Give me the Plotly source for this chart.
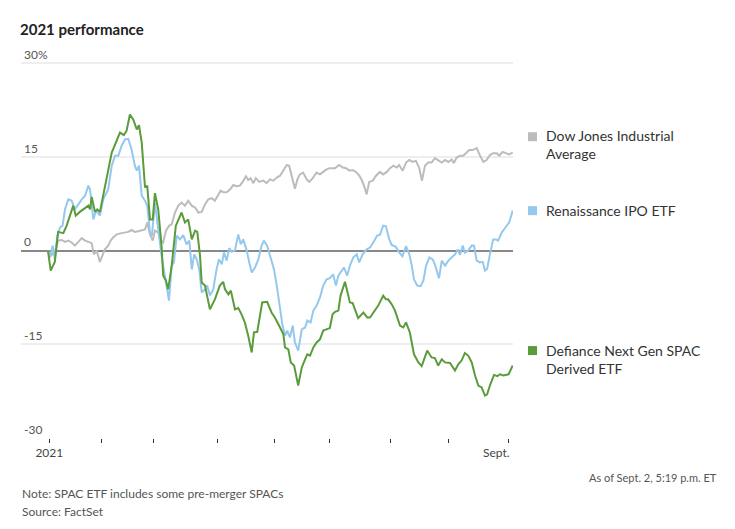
import plotly.graph_objects as go

# Trading-day index: 0 = Dec 31 2020, 1 = Jan 4 2021 ... 169 = Sept 2 2021
dow_days = [0, 0.7, 2.5, 3.7, 5.0, 6.2, 7.4, 8.6, 9.8, 11.0, 12.3, 13.5, 15.0, 15.9, 16.7, 17.7, 18.9, 19.9,
            20.7, 21.9, 22.8, 23.7, 25.0, 26.8, 28.0, 29.2, 30.4, 31.6, 32.8, 34.1, 35.3, 36.1, 37.1, 38.1,
            38.9, 40.1, 41.0, 41.9, 42.9, 44.1, 45.0, 46.2, 47.4, 48.6, 49.8, 51.0, 52.3, 53.5, 54.7, 55.9,
            57.1, 58.3, 59.5, 60.7, 61.9, 62.8, 64.0, 65.2, 66.4, 67.4, 68.6, 69.8, 70.8, 72.0, 72.8, 73.7,
            74.7, 75.6, 76.8, 78.3, 79.5, 80.7, 81.9, 83.2, 84.4, 85.6, 86.8, 87.7, 88.6, 89.8, 90.7, 91.6,
            92.8, 94.1, 95.0, 96.3, 97.7, 98.9, 100.1, 101.3, 102.5, 104.4, 105.9, 107.2, 108.4, 109.6, 110.8,
            112.0, 113.2, 114.1, 114.9, 115.9, 116.8, 118.1, 119.3, 120.7, 121.9, 123.2, 124.4, 125.6, 126.8,
            127.7, 129.0, 130.2, 131.4, 132.6, 133.8, 135.0, 136.0, 137.1, 138.3, 139.5, 140.7, 141.9, 143.2,
            144.4, 145.6, 146.8, 147.6, 148.6, 149.8, 151.0, 152.0, 153.2, 154.4, 155.9, 157.1, 158.3, 159.5,
            160.7, 161.9, 163.2, 164.1, 165.3, 166.5, 167.7, 169.0]
dow_values = [0, -1.0, -0.2, 1.6, 1.7, 1.4, 1.6, 1.3, 0.8, 1.3, 2.0, 1.6, 1.3, 1.2, -0.6, 0, -1.8, -0.8,
              0.2, 0.8, 1.6, 2.1, 2.6, 2.8, 2.9, 3.0, 3.3, 3.0, 3.1, 3.2, 3.4, 4.5, 2.6, 1.6,
              3.2, 2.9, 1.6, 1.3, 3.2, 4.0, 4.2, 6.1, 7.2, 7.7, 7.2, 8.0, 7.2, 6.9, 6.1, 6.2,
              7.4, 8.2, 8.4, 8.0, 8.8, 9.6, 9.3, 9.4, 9.9, 10.5, 10.3, 10.4, 11.0, 11.9, 11.3, 11.6,
              10.8, 11.6, 11.0, 11.2, 10.8, 11.4, 11.2, 11.7, 12.0, 12.8, 13.7, 13.6, 12.2, 9.9, 11.4, 12.2,
              12.5, 11.4, 11.0, 11.6, 12.5, 12.2, 12.6, 13.0, 13.2, 13.2, 13.7, 13.3, 13.2, 12.8, 12.9,
              12.6, 12.0, 11.3, 10.4, 9.0, 11.0, 11.2, 12.0, 12.6, 12.2, 12.6, 13.2, 13.6, 13.3,
              13.7, 12.8, 14.1, 14.5, 14.2, 14.4, 13.2, 11.2, 13.6, 14.1, 14.1, 14.8, 14.4, 14.1,
              14.5, 14.2, 14.6, 14.0, 14.9, 15.2, 15.2, 15.6, 16.1, 16.1, 16.4, 15.2, 14.2, 14.5,
              15.3, 15.6, 15.6, 15.2, 15.8, 15.6, 15.4, 15.7]

ipo_days = [0, 1.0, 1.7, 2.5, 3.4, 4.4, 5.3, 6.2, 7.4, 8.6, 9.8, 11.0, 12.3, 13.5, 14.7, 15.3, 16.5, 17.5,
            18.9, 20.1, 21.9, 23.2, 24.4, 25.6, 26.8, 28.0, 29.2, 30.4, 31.6, 32.3, 33.1, 34.1, 35.3, 36.1,
            37.1, 37.8, 38.9, 40.1, 41.3, 42.5, 44.0, 45.0, 45.8, 46.8, 48.0, 49.2, 50.4, 51.4, 52.3, 53.2,
            54.1, 55.0, 55.9, 57.1, 57.9, 58.9, 60.1, 61.3, 62.2, 63.2, 64.0, 65.0, 65.9, 66.8, 68.0, 69.2,
            70.1, 71.0, 72.3, 73.2, 74.1, 75.3, 76.5, 77.7, 78.5, 79.7, 80.7, 82.2, 83.2, 84.4, 85.3, 86.2,
            87.0, 88.0, 89.0, 89.8, 91.0, 92.3, 93.5, 94.3, 95.5, 96.5, 97.7, 98.9, 100.1, 101.3, 102.5,
            103.7, 104.7, 105.6, 106.8, 107.6, 108.8, 109.8, 111.0, 112.3, 113.2, 114.4, 115.9, 117.1, 118.3,
            119.7, 120.7, 121.9, 122.9, 124.1, 125.0, 126.5, 127.7, 128.9, 130.2, 131.4, 132.3, 133.1, 134.3,
            135.5, 136.5, 137.5, 138.7, 139.9, 140.7, 141.3, 142.2, 143.2, 144.4, 145.6, 146.8, 148.0, 149.0,
            149.8, 150.8, 151.6, 152.8, 154.1, 154.9, 155.9, 157.1, 158.1, 158.9, 159.7, 160.7, 161.9, 162.9,
            163.7, 165.0, 166.5, 167.7, 169.0]
ipo_values = [0, -0.8, 0.8, -1.4, 2.4, 3.7, 4.0, 6.6, 8.2, 8.0, 6.6, 7.4, 8.2, 8.8, 10.4, 9.8, 5.0, 6.4,
              5.6, 8.2, 9.8, 13.6, 15.2, 15.2, 16.8, 17.8, 17.9, 16.2, 13.6, 12.8, 13.6, 8.8, 8.0, 7.2,
              2.9, 2.4, 7.7, 3.4, -0.8, -4.0, -8.0, -2.4, -1.9, 2.4, 1.8, 2.5, 1.0, 1.6, -3.0, -0.6,
              -1.4, -3.0, -6.7, -6.2, -5.6, -7.2, -6.2, -3.0, -1.4, -2.2, -0.3, -1.6, 0.4, -0.2, 0, 2.6,
              1.0, 1.8, 0, -1.9, -3.5, -2.7, -1.4, 0.8, 1.6, 0.8, -0.8, -3.0, -5.6, -9.4, -12.0, -13.6,
              -12.8, -13.9, -12.0, -14.7, -16.0, -12.6, -12.3, -11.2, -11.5, -9.6, -8.8, -7.5, -5.6, -4.6, -4.4,
              -3.8, -5.6, -4.0, -3.2, -2.7, -4.0, -2.4, -1.1, -0.6, -1.9, -0.6, 0.2, 0.5, 1.3,
              2.4, 2.5, 4.0, 3.9, 1.8, 0.9, 0.6, -0.3, -0.9, 0.7, -0.6, -2.4, -4.6, -5.6,
              -5.7, -4.8, -2.4, -1.1, -1.4, -2.2, -3.0, -4.4, -1.6, -2.4, -1.6, -1.1, -0.6, 0.2,
              -0.7, 0.8, -0.3, 0, 0.8, 0.8, -1.6, -1.9, -1.8, -3.2, -2.9, -0.6, 1.8, 1.8,
              1.6, 2.9, 3.7, 4.5, 6.4]

spac_days = [0, 1.0, 2.5, 3.7, 5.6, 6.8, 9.2, 10.1, 11.6, 14.7, 15.3, 15.9, 17.1, 17.9, 18.9, 20.7, 23.2,
             26.2, 27.6, 28.6, 29.8, 31.0, 32.3, 33.1, 34.1, 35.3, 36.1, 37.1, 38.1, 38.9, 40.1, 41.3, 41.9,
             42.9, 43.7, 45.0, 45.6, 46.5, 48.6, 49.8, 51.0, 52.3, 53.5, 54.3, 55.3, 55.9, 57.1, 58.9, 60.7,
             62.5, 63.7, 64.4, 65.6, 66.5, 68.0, 69.2, 70.4, 71.6, 72.8, 74.1, 74.9, 76.1, 77.9, 79.7, 81.3,
             82.5, 84.4, 85.6, 86.2, 87.4, 88.3, 89.5, 91.0, 92.3, 93.5, 94.3, 95.3, 96.5, 97.7, 98.9, 100.1,
             101.3, 102.5, 103.5, 104.4, 105.6, 106.4, 108.0, 108.8, 109.8, 110.8, 111.6, 112.8, 114.7, 116.1,
             117.1, 118.9, 120.1, 121.9, 122.9, 123.7, 125.0, 126.2, 128.0, 129.2, 130.2, 131.6, 133.1, 134.7,
             135.9, 137.9, 139.5, 140.7, 141.9, 143.2, 144.4, 146.2, 148.0, 149.2, 150.4, 151.6, 152.8, 154.1,
             155.3, 156.5, 157.7, 158.9, 159.7, 160.7, 162.2, 163.4, 164.4, 165.6, 167.5, 169.0]
spac_values = [0, -3.2, -1.8, 3.0, 2.8, 4.0, 7.2, 5.6, 6.2, 7.2, 6.6, 8.6, 6.2, 6.6, 6.2, 10.4, 15.7,
               18.9, 18.5, 19.2, 21.8, 21.0, 19.4, 20.1, 17.3, 10.1, 10.4, 5.0, 5.0, 9.2, 6.6, 0.8, -4.0,
               -4.8, -6.2, -2.4, 0.2, 4.0, 6.1, 4.5, 5.0, 1.8, 3.2, 3.0, -0.8, -5.1, -5.6, -9.4, -7.8,
               -5.6, -5.0, -6.2, -7.0, -6.4, -9.4, -9.2, -10.2, -11.5, -13.6, -16.3, -13.1, -13.0, -8.3, -8.2, -9.9,
               -10.7, -12.3, -13.4, -15.5, -15.8, -17.9, -18.4, -21.6, -18.7, -17.4, -16.6, -16.8, -15.5, -14.7, -14.2, -12.8,
               -12.6, -12.4, -10.2, -9.8, -9.6, -7.2, -5.0, -6.7, -8.3, -8.4, -9.4, -10.8, -9.9, -10.7,
               -10.7, -9.6, -8.8, -7.2, -7.8, -7.8, -8.6, -9.6, -12.0, -12.3, -11.5, -13.1, -16.6, -17.9,
               -18.5, -16.0, -17.1, -17.2, -18.4, -17.4, -17.9, -18.0, -19.2, -18.2, -17.6, -16.4, -16.8, -17.9,
               -20.0, -21.6, -21.9, -23.2, -23.0, -21.6, -19.9, -20.1, -19.8, -20.0, -19.8, -18.4]

series_names = ["Dow Jones Industrial<br>Average", "Renaissance IPO ETF", "Defiance Next Gen SPAC<br>Derived ETF"]
series_colors = ["#bcbcbc", "#94c8ee", "#5a9c3c"]

y_tickvals = [-30, -15, 0, 15, 30]
y_ticktext = ["-30", "-15", "0", "15", "30%"]
x_tickvals = [0.5, 19.5, 38.5, 61.5, 82.5, 102.5, 124.5, 145.5, 167.5]
x_ticktext = ["2021", "", "", "", "", "", "", "", "Sept." + "\u00a0" * 8]

W, H = 735, 529
# pixel geometry: y=30 gridline at 63, y=-30 gridline at 438; plot extends above 30 for the label
L, R, B = 21, 513, 438
PX_PER_UNIT = (438 - 63) / 60.0
Y_TOP = 32.6
T = B - (Y_TOP + 30) * PX_PER_UNIT

fig = go.Figure()
for days, vals, col in [(dow_days, dow_values, series_colors[0]),
                        (ipo_days, ipo_values, series_colors[1]),
                        (spac_days, spac_values, series_colors[2])]:
    fig.add_trace(go.Scatter(x=days, y=vals, mode="lines",
                             line=dict(color=col, width=2), hoverinfo="skip", showlegend=False))

def px_x(px):
    return (px - L) / (R - L)

def px_y(py):
    return (B - py) / (B - T)

FONT = "Lato, 'Noto Sans', sans-serif"

# legend labels and swatches
legend_pos = [(144, 132), (210, 206), (359, 346)]
for name, col, (ty, sy) in zip(series_names, series_colors, legend_pos):
    fig.add_annotation(xref="paper", yref="paper", x=px_x(544), y=px_y(ty), text=name,
                       showarrow=False, xanchor="left", yanchor="middle", align="left",
                       font=dict(family=FONT, size=14, color="#333333"))
    fig.add_shape(type="rect", xref="paper", yref="paper",
                  x0=px_x(528), x1=px_x(537), y0=px_y(sy + 9), y1=px_y(sy),
                  fillcolor=col, line=dict(width=0))

fig.add_annotation(xref="paper", yref="paper", x=px_x(719), y=px_y(478),
                   text="As of Sept. 2, 5:19 p.m. ET", showarrow=False, xanchor="right", yanchor="middle",
                   font=dict(family=FONT, size=11, color="#555555"))
fig.add_annotation(xref="paper", yref="paper", x=px_x(20), y=px_y(494),
                   text="Note: SPAC ETF includes some pre-merger SPACs", showarrow=False,
                   xanchor="left", yanchor="middle", font=dict(family=FONT, size=12, color="#555555"))
fig.add_annotation(xref="paper", yref="paper", x=px_x(20), y=px_y(512),
                   text="Source: FactSet", showarrow=False,
                   xanchor="left", yanchor="middle", font=dict(family=FONT, size=12, color="#555555"))

fig.update_layout(
    width=W, height=H,
    margin=dict(l=L, r=W - R, t=T, b=H - B, pad=0, autoexpand=False),
    paper_bgcolor="white", plot_bgcolor="white",
    title=dict(text="<b>2021 performance</b>", xref="container", yref="container",
               x=20 / W, y=1 - 30 / H, xanchor="left", yanchor="middle",
               font=dict(family=FONT, size=15, color="#222222")),
    xaxis=dict(range=[-9.8, 169.1], tickvals=x_tickvals, ticktext=x_ticktext,
               showgrid=False, zeroline=False, showline=False, automargin=False,
               ticks="outside", ticklen=4, tickwidth=1, tickcolor="#333333",
               tickfont=dict(family=FONT, size=12, color="#444444")),
    yaxis=dict(range=[-30, Y_TOP], tickvals=y_tickvals, ticktext=y_ticktext,
               showgrid=True, gridcolor="#eeeeee", gridwidth=2, automargin=False,
               zeroline=True, zerolinecolor="#888888", zerolinewidth=2,
               showline=False, ticks="", ticklabelposition="inside top",
               tickfont=dict(family=FONT, size=12, color="#555555")),
)

fig.write_html("out.html", config={"displayModeBar": False},
               post_script="document.body.style.margin='0';")
